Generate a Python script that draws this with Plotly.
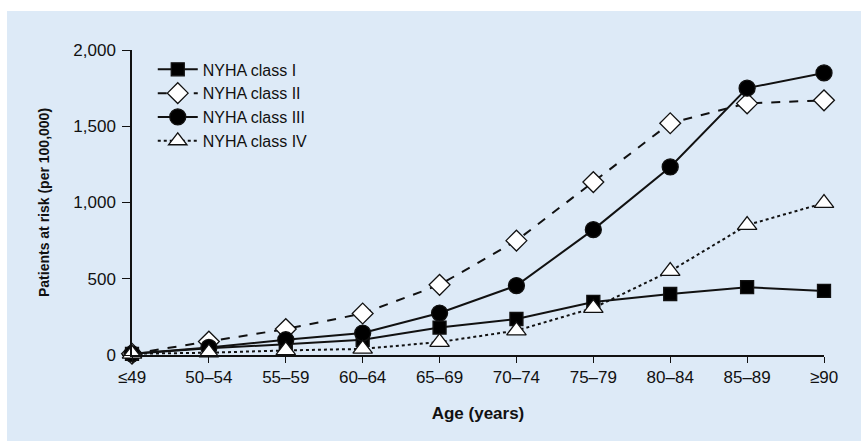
import plotly.graph_objects as go

ages = ["≤49", "50–54", "55–59", "60–64", "65–69", "70–74", "75–79", "80–84", "85–89", "≥90"]
class_i = [8, 45, 70, 100, 180, 236, 348, 400, 445, 420]
class_ii = [8, 88, 170, 272, 460, 750, 1134, 1520, 1650, 1670]
class_iii = [8, 50, 100, 144, 275, 455, 822, 1233, 1750, 1850]
class_iv = [8, 15, 30, 40, 85, 160, 308, 550, 852, 996]
yticks = [0, 500, 1000, 1500, 2000]

W, H = 861, 441
L, R, T, B = 132, 37, 50, 86
pw, ph = W - L - R, H - T - B

fig = go.Figure()
x = list(range(len(ages)))

series = [
    ("NYHA class I", class_i, "solid", "square", 13, "black"),
    ("NYHA class II", class_ii, "dash", "diamond", 16, "white"),
    ("NYHA class III", class_iii, "solid", "circle", 16, "black"),
    ("NYHA class IV", class_iv, "dot", "triangle-up", 17, "white"),
]
for name, vals, dash, sym, size, fill in series:
    fig.add_trace(go.Scatter(
        x=x, y=vals, name=name, mode="lines+markers",
        line=dict(color="#111", width=2, dash=dash),
        marker=dict(symbol=sym, size=size, color=fill, line=dict(color="#111", width=1.3)),
        cliponaxis=False,
    ))

# light blue panel
fig.add_shape(type="rect", xref="paper", yref="paper",
              x0=(7 - L) / pw, x1=(W - L) / pw,
              y0=(H - B - 441) / ph, y1=(H - B - 11) / ph,
              fillcolor="#DDEAF7", line=dict(width=0), layer="below")

font = "Liberation Sans, Arial, Helvetica, sans-serif"
txt = "#111"
fig.update_layout(
    width=W, height=H,
    margin=dict(l=L, r=R, t=T, b=B),
    paper_bgcolor="white", plot_bgcolor="rgba(0,0,0,0)",
    font=dict(family=font, size=17, color=txt),
    showlegend=True,
    legend=dict(x=0.03, y=0.992, xanchor="left", yanchor="top",
                bgcolor="rgba(0,0,0,0)", font=dict(size=16, color=txt),
                tracegroupgap=0, itemwidth=40),
    xaxis=dict(range=[0, 9], tickvals=x, ticktext=ages, showgrid=False, zeroline=False,
               showline=True, linecolor="#111", linewidth=1.5,
               ticks="outside", ticklen=6, tickwidth=1.3, tickcolor="#111",
               tickfont=dict(size=17),
               title=dict(text="<b>Age (years)</b>", font=dict(size=17, color=txt), standoff=21)),
    yaxis=dict(range=[0, 2000], tickvals=yticks, tickformat=",", showgrid=False, zeroline=False,
               showline=True, linecolor="#111", linewidth=1.5,
               ticks="outside", ticklen=8, tickwidth=1.3, tickcolor="#111",
               tickfont=dict(size=17), ticklabelstandoff=3,
               title=dict(text="<b>Patients at risk (per 100,000)</b>", font=dict(size=14, color=txt), standoff=20)),
)

fig.write_html("out.html", config={"displayModeBar": False},
               post_script="document.body.style.margin='0';")
